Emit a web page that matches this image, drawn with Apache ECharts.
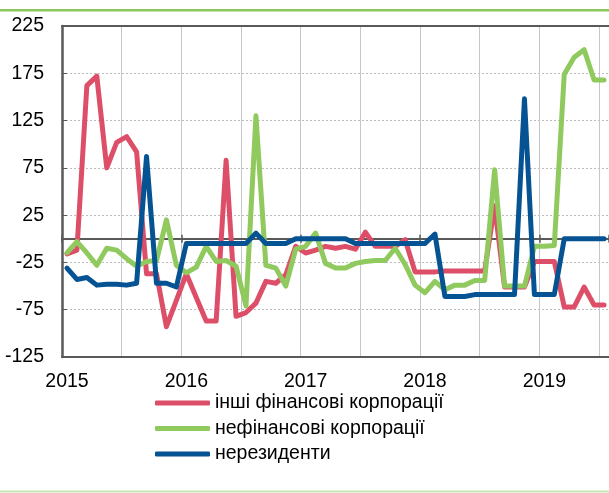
<!DOCTYPE html>
<html><head><meta charset="utf-8">
<style>html,body{margin:0;padding:0;background:#fff}#c{width:609px;height:493px}</style>
<script src="https://cdn.jsdelivr.net/npm/echarts@6/dist/echarts.min.js"></script>
</head><body><div id="c"></div>
<script>
const months = [
 '2015-01','2015-02','2015-03','2015-04','2015-05','2015-06','2015-07','2015-08','2015-09','2015-10','2015-11','2015-12',
 '2016-01','2016-02','2016-03','2016-04','2016-05','2016-06','2016-07','2016-08','2016-09','2016-10','2016-11','2016-12',
 '2017-01','2017-02','2017-03','2017-04','2017-05','2017-06','2017-07','2017-08','2017-09','2017-10','2017-11','2017-12',
 '2018-01','2018-02','2018-03','2018-04','2018-05','2018-06','2018-07','2018-08','2018-09','2018-10','2018-11','2018-12',
 '2019-01','2019-02','2019-03','2019-04','2019-05','2019-06','2019-07'
];
const yearLabels = ['2015','2016','2017','2018','2019'];
const yTicks = [-125,-75,-25,25,75,125,175,225];
const seriesNames = ['інші фінансові корпорації','нефінансові корпорації','нерезиденти'];

const otherFin = [-16,-12,162,172,75,102,108,92,-37,-37,-93,-65,-37,-62,-87,-87,83,-82,-78,-68,-45,-47,-38,-8,
 -15,-12,-8,-10,-8,-11,7,-8,-8,-8,-1,-35,-35,-35,-34,-34,-34,-34,-34,35,-51,-51,-51,-24,-24,-24,-72,-72,-51,-70,-70];
const nonFin = [-15,-3,-15,-28,-10,-12,-21,-29,-24,-23,20,-28,-36,-30,-8,-24,-23,-29,-71,130,-28,-31,-50,-11,
 -8,6,-26,-31,-31,-26,-24,-23,-23,-10,-27,-49,-57,-45,-54,-49,-49,-44,-44,73,-50,-50,-50,-8,-8,-7,174,192,200,168,168];
const nonRes = [-31,-43,-41,-49,-48,-48,-49,-47,87,-47,-47,-51,-5,-5,-5,-5,-5,-5,-5,6,-5,-5,-5,0,
 0,0,0,0,0,-5,-5,-5,-5,-5,-5,-5,-5,5,-61,-61,-61,-59,-59,-59,-59,-59,148,-59,-59,-59,0,0,0,0,0];

const colors = ['#dd4f68','#90c95e','#065394'];
const FONT = "'Liberation Sans', Arial, sans-serif";
const DARK = '#595959';
const band = 10.067;

const chart = echarts.init(document.getElementById('c'), null, {renderer:'canvas'});
const yMin = yTicks[0], yMax = yTicks[yTicks.length-1], yStep = yTicks[1]-yTicks[0];

chart.setOption({
  animation:false,
  textStyle:{fontFamily:FONT},
  graphic:[
    {type:'rect', shape:{x:0,y:9,width:609,height:2.5}, style:{fill:'#8dc85c'}, silent:true},
    {type:'rect', shape:{x:0,y:490.5,width:609,height:2}, style:{fill:'#c9e5b1'}, silent:true}
  ],
  grid:{left:62, top:26, width:months.length*band, height:331, containLabel:false},
  legend:{
    orient:'vertical', left:150, top:388, itemWidth:55, itemHeight:5, itemGap:5.5,
    icon:'roundRect',
    textStyle:{fontSize:19.5, color:'#000', fontFamily:FONT},
    data:seriesNames
  },
  xAxis:[
    {type:'category', data:months, boundaryGap:true, position:'bottom',
     axisLine:{onZero:false, lineStyle:{color:DARK, width:2}},
     axisTick:{show:false},
     axisLabel:{interval:11, margin:15, fontSize:19.5, color:'#000', fontFamily:FONT,
       formatter:(v)=>{const y=v.slice(0,4); return yearLabels.indexOf(y)>=0?y:'';}},
     splitLine:{show:true, interval:5, lineStyle:{color:'#c3c7cb', width:1}}},
    {type:'category', data:months, boundaryGap:true, position:'bottom',
     axisLine:{onZero:true, onZeroAxisIndex:0, lineStyle:{color:DARK, width:2}},
     axisTick:{show:true, interval:11, length:4, lineStyle:{color:DARK, width:1.5}},
     axisLabel:{show:false}, splitLine:{show:false}},
    {type:'category', data:months, boundaryGap:true, position:'top',
     axisLine:{onZero:true, onZeroAxisIndex:1, lineStyle:{color:DARK, width:2}},
     axisTick:{show:true, interval:11, length:4, lineStyle:{color:DARK, width:1.5}},
     axisLabel:{show:false}, splitLine:{show:false}},
    {type:'category', data:months, boundaryGap:true, position:'top',
     axisLine:{onZero:false, lineStyle:{color:DARK, width:2}},
     axisTick:{show:false}, axisLabel:{show:false}, splitLine:{show:false}}
  ],
  yAxis:[
    {type:'value', min:yMin, max:yMax, interval:yStep, position:'left',
     axisLine:{show:true, onZero:false, lineStyle:{color:DARK, width:2.5}},
     axisTick:{show:true, inside:true, length:5, lineStyle:{color:DARK, width:1}},
     axisLabel:{margin:18, fontSize:19.5, color:'#000', fontFamily:FONT},
     splitLine:{show:true, lineStyle:{color:'#bdbdbd', width:1, type:[2,2]}}},
    {type:'value', min:yMin, max:yMax, interval:yStep, position:'right', show:false,
     splitLine:{show:false}}
  ],
  series:[
    {name:seriesNames[0], type:'line', data:otherFin, xAxisIndex:0, yAxisIndex:0, symbol:'none',
     color:colors[0], lineStyle:{width:5, color:colors[0], join:'round', cap:'round'}, z:2},
    {name:seriesNames[1], type:'line', data:nonFin, xAxisIndex:0, yAxisIndex:0, symbol:'none',
     color:colors[1], lineStyle:{width:5, color:colors[1], join:'round', cap:'round'}, z:3},
    {name:seriesNames[2], type:'line', data:nonRes, xAxisIndex:0, yAxisIndex:0, symbol:'none',
     color:colors[2], lineStyle:{width:5, color:colors[2], join:'round', cap:'round'}, z:4}
  ]
});
</script>
</body></html>
